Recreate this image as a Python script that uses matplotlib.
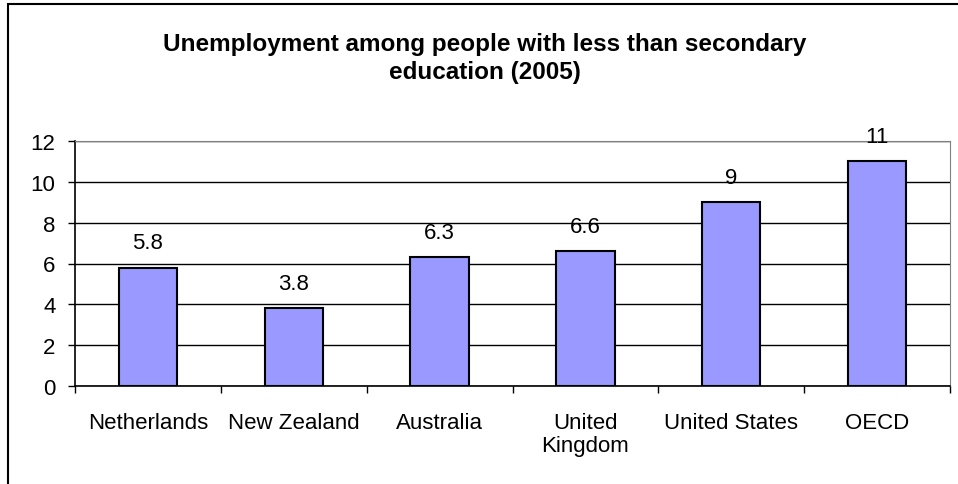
import matplotlib.pyplot as plt
from matplotlib.patches import Rectangle

plt.rcParams['font.family'] = ['Liberation Sans', 'DejaVu Sans']

# unemployment rate, people with less than secondary education
countries = ['Netherlands', 'New Zealand', 'Australia', 'United\nKingdom',
             'United States', 'OECD']
rates = [5.8, 3.8, 6.3, 6.6, 9, 11]
rate_labels = ['5.8', '3.8', '6.3', '6.6', '9', '11']
y_ticks = [0, 2, 4, 6, 8, 10, 12]

fig = plt.figure(figsize=(9.58, 4.85), dpi=100)

# chart-area border (runs off the right and bottom edges)
fig.patches.append(Rectangle((8 / 958, -0.1), 1.2, 0.1 + 480 / 485,
                             transform=fig.transFigure, fill=False,
                             edgecolor='black', linewidth=1.5, zorder=0))

ax = fig.add_axes([75 / 958, 98 / 485, 875 / 958, 245 / 485])
x = list(range(len(countries)))
ax.bar(x, rates, width=0.4, color='#9999FF', edgecolor='black',
       linewidth=1.5, zorder=3)

for xi, val, lab in zip(x, rates, rate_labels):
    ax.annotate(lab, (xi, val), xytext=(0, 18), textcoords='offset points',
                ha='center', va='center', fontsize=16)

ax.set_xlim(-0.5, len(countries) - 0.5)
ax.set_ylim(0, 12)
ax.set_yticks(y_ticks)
ax.tick_params(axis='y', labelsize=16, length=5, width=1, pad=9,
               direction='out')
ax.yaxis.grid(True, color='black', linewidth=1)

# category labels between boundary ticks
ax.set_xticks(x)
ax.set_xticklabels(countries, fontsize=16, linespacing=1.1)
ax.tick_params(axis='x', length=0, pad=19)
ax.set_xticks([i - 0.5 for i in range(len(countries) + 1)], minor=True)
ax.tick_params(axis='x', which='minor', length=5, width=1, direction='out')

for side in ['top', 'right']:
    ax.spines[side].set_color('#808080')
ax.spines['left'].set_linewidth(1.2)
ax.spines['bottom'].set_linewidth(1.2)
ax.set_axisbelow(True)

fig.text(0.506, 0.880,
         'Unemployment among people with less than secondary\neducation (2005)',
         ha='center', va='center', fontsize=17.5, fontweight='bold',
         linespacing=1.3)

fig.savefig('out.png', dpi=100)
